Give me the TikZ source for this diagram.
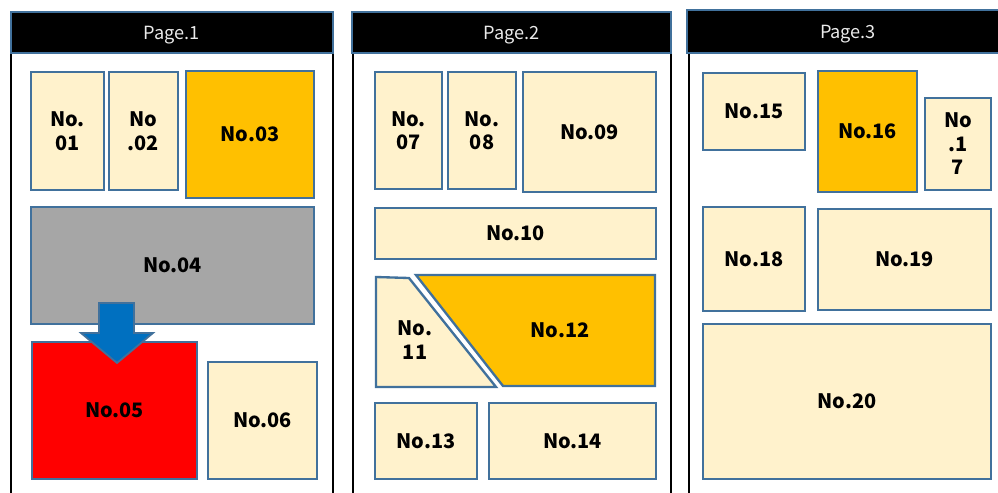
\documentclass[tikz,border=0pt]{standalone}
\usepackage{fontspec}
\usepackage{tikz}
\newfontfamily\jpfont{Noto Sans CJK JP}
\definecolor{cream}{RGB}{255,242,204}
\definecolor{frame}{RGB}{65,113,156}
\definecolor{amber}{RGB}{255,192,0}
\definecolor{slate}{RGB}{166,166,166}
\definecolor{arrowblue}{RGB}{0,112,192}

\begin{document}
\begin{tikzpicture}[
    x=0.03cm, y=-0.03cm,
    size/.style 2 args={minimum width=#1*0.03cm, minimum height=#2*0.03cm},
    header/.style={draw=frame, line width=1.6pt, fill=black, text=white!92!black, font=\jpfont\fontsize{15.5}{18}\selectfont, text depth=0pt, inner sep=0pt},
    sheet/.style={draw=black, line width=2pt, fill=white},
    part/.style={draw=frame, line width=2pt, fill=cream, font=\jpfont\bfseries\fontsize{17}{20}\selectfont, align=center, inner sep=0pt},
    label/.style={font=\jpfont\bfseries\fontsize{17}{20}\selectfont, align=center, inner sep=0pt},
]
    \clip (0,0) rectangle (998,492);

    % Page 1
    \draw[sheet] (11,53) rectangle (333,520);
    \node[header, size={322}{41}] (hd1) at (172,32.5) {Page.1};
    \node[part, size={73}{118}] (n01) at (67.5,131) {No.\\01};
    \node[part, size={69}{118}] (n02) at (143.5,131) {No\\.02};
    \node[part, size={128}{127}, fill=amber] (n03) at (250,134.5) {No.03};
    \node[part, size={283}{117}, fill=slate] (n04) at (172.5,265.5) {No.04};
    \node[part, size={165}{137}, fill=red] (n05) at (114.5,410.5) {No.05};
    \node[part, size={109}{117}] (n06) at (262.5,420.5) {No.06};
    \filldraw[draw=frame, line width=1.5pt, fill=arrowblue]
        (99,303) -- (134,303) -- (134,333) -- (153,333) -- (117,363) -- (81,333) -- (99,333) -- cycle;

    % Page 2
    \draw[sheet] (353,53) rectangle (671,520);
    \node[header, size={319}{41}] (hd2) at (511.5,32.5) {Page.2};
    \node[part, size={67}{117}] (n07) at (408.5,130.5) {No.\\07};
    \node[part, size={68}{117}] (n08) at (482,130.5) {No.\\08};
    \node[part, size={133}{120}] (n09) at (589.5,132) {No.09};
    \node[part, size={281}{51}] (n10) at (515.5,233.5) {No.10};
    \filldraw[draw=frame, line width=2pt, fill=cream]
        (376,277) -- (409,278) -- (496,387) -- (376,387) -- cycle;
    \node[label] (n11) at (415,340) {No.\\11};
    \filldraw[draw=frame, line width=2pt, fill=amber]
        (416,275) -- (655,275) -- (655,386) -- (503,386) -- cycle;
    \node[label] (n12) at (560,330) {No.12};
    \node[part, size={102}{76}] (n13) at (426,441) {No.13};
    \node[part, size={167}{76}] (n14) at (572.5,441) {No.14};

    % Page 3
    \draw[sheet] (689,53) rectangle (1010,520);
    \node[header, size={323}{43}] (hd3) at (848.5,31.5) {};
    \node[text=white!92!black, font=\jpfont\fontsize{15.5}{18}\selectfont, text depth=0pt, inner sep=0pt] (pg3) at (848,31.5) {Page.3};
    \node[part, size={102}{77}] (n15) at (754,111.5) {No.15};
    \node[part, size={99}{121}, fill=amber] (n16) at (867.5,131.5) {No.16};
    \node[part, size={66}{92}] (n17) at (958,144) {No\\.1\\7};
    \node[part, size={102}{104}] (n18) at (754,259) {No.18};
    \node[part, size={173}{101}] (n19) at (904.5,259.5) {No.19};
    \node[part, size={288}{155}] (n20) at (847,401.5) {No.20};
\end{tikzpicture}
\end{document}
